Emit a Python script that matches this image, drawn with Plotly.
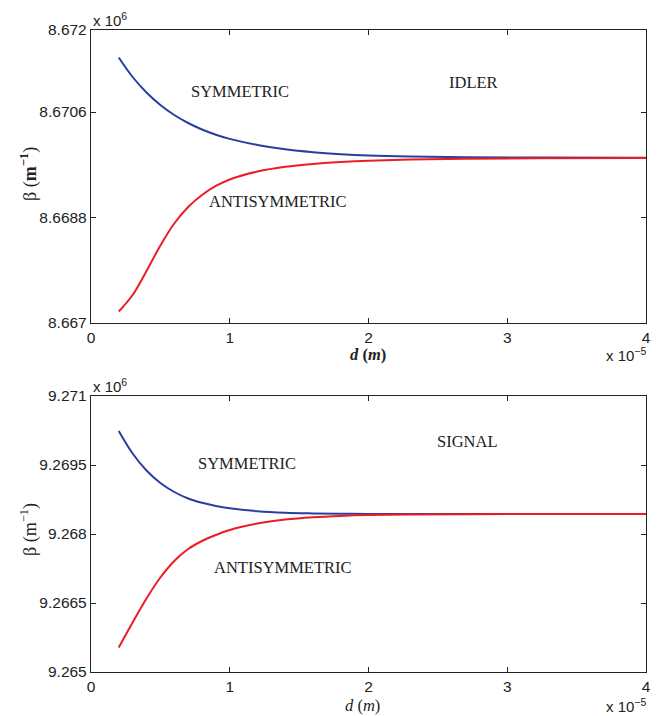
import plotly.graph_objects as go
from plotly.subplots import make_subplots

# d in units of 1e-5 m, beta in units of 1e6 m^-1
d = [0.2, 0.3, 0.4, 0.5, 0.6, 0.7, 0.8, 0.9, 1.0, 1.2, 1.4, 1.6, 1.8, 2.0, 2.3, 2.7, 3.2, 4.0]

idler_sym = [8.671531, 8.671198, 8.670933, 8.670720, 8.670549, 8.670413, 8.670302, 8.670213,
             8.670142, 8.670038, 8.669964, 8.669915, 8.669881, 8.669858, 8.669840, 8.669828,
             8.669823, 8.669819]
idler_anti = [8.667196, 8.667478, 8.667887, 8.668322, 8.668698, 8.668979, 8.669184, 8.669338,
              8.669449, 8.669585, 8.669666, 8.669715, 8.669747, 8.669770, 8.669790, 8.669804,
              8.669812, 8.669817]

signal_sym = [9.270239, 9.269750, 9.269380, 9.269109, 9.268913, 9.268772, 9.268678, 9.268609,
              9.268559, 9.268496, 9.268463, 9.268448, 9.268440, 9.268437, 9.268435, 9.268435,
              9.268435, 9.268435]
signal_anti = [9.265533, 9.266076, 9.266598, 9.267054, 9.267413, 9.267674, 9.267848, 9.267978,
               9.268087, 9.268228, 9.268313, 9.268363, 9.268393, 9.268411, 9.268424, 9.268430,
               9.268434, 9.268435]

x_ticks = [0, 1, 2, 3, 4]
top_yticks = [8.667, 8.6688, 8.6706, 8.672]
top_yticktext = ["8.667", "8.6688", "8.6706", "8.672"]
bot_yticks = [9.265, 9.2665, 9.268, 9.2695, 9.271]
bot_yticktext = ["9.265", "9.2665", "9.268", "9.2695", "9.271"]

BLUE = "rgb(42,62,160)"
RED = "rgb(236,28,36)"
SERIF = "Liberation Serif, Times New Roman, serif"
SANS = "Liberation Sans, Arial, sans-serif"

W, H = 668, 716
L, R, T, B = 91, 22, 30, 44
PW, PH = W - L - R, H - T - B

def py(pix):
    return (H - B - pix) / PH

def px(pix):
    return (pix - L) / PW

fig = make_subplots(rows=2, cols=1, vertical_spacing=0.05)
fig.update_layout(
    yaxis=dict(domain=[py(323), 1.0]),
    yaxis2=dict(domain=[0.0, py(396)]),
)

line_w = 2
spl = dict(shape="spline", smoothing=1.0)
fig.add_trace(go.Scatter(x=d, y=idler_sym, mode="lines", line=dict(color=BLUE, width=line_w, **spl)), row=1, col=1)
fig.add_trace(go.Scatter(x=d, y=idler_anti, mode="lines", line=dict(color=RED, width=line_w, **spl)), row=1, col=1)
fig.add_trace(go.Scatter(x=d, y=signal_sym, mode="lines", line=dict(color=BLUE, width=line_w, **spl)), row=2, col=1)
fig.add_trace(go.Scatter(x=d, y=signal_anti, mode="lines", line=dict(color=RED, width=line_w, **spl)), row=2, col=1)

axis_common = dict(showline=True, linecolor="#222", linewidth=1.3, mirror="ticks",
                   ticks="inside", ticklen=5, tickcolor="#222", showgrid=False, zeroline=False,
                   tickfont=dict(family=SANS, size=15.5, color="#222"))

for r in (1, 2):
    fig.update_xaxes(range=[0, 4], tickvals=x_ticks, ticktext=[str(v) for v in x_ticks],
                     row=r, col=1, **axis_common)
fig.update_yaxes(range=[8.667, 8.672], tickvals=top_yticks, ticktext=top_yticktext, row=1, col=1, **axis_common)
fig.update_yaxes(range=[9.265, 9.271], tickvals=bot_yticks, ticktext=bot_yticktext, row=2, col=1, **axis_common)

C = dict(xanchor="center", yanchor="middle", showarrow=False)
ann = []
lab_font = dict(family=SERIF, size=16.5, color="#222")
ann += [
    dict(x=1.074, y=8.670947, xref="x", yref="y", text="SYMMETRIC", font=lab_font, **C),
    dict(x=1.348, y=8.669070, xref="x", yref="y", text="ANTISYMMETRIC", font=lab_font, **C),
    dict(x=2.76, y=8.671101, xref="x", yref="y", text="IDLER", font=lab_font, **C),
    dict(x=1.124, y=9.269543, xref="x2", yref="y2", text="SYMMETRIC", font=lab_font, **C),
    dict(x=1.384, y=9.267261, xref="x2", yref="y2", text="ANTISYMMETRIC", font=lab_font, **C),
    dict(x=2.71, y=9.270007, xref="x2", yref="y2", text="SIGNAL", font=lab_font, **C),
]
mult_font = dict(family=SANS, size=15, color="#222")
ann += [
    dict(x=px(91), y=py(31), xref="paper", yref="paper", xanchor="left", yanchor="bottom",
         text="x 10<sup>6</sup>", showarrow=False, font=mult_font),
    dict(x=px(91), y=py(397), xref="paper", yref="paper", xanchor="left", yanchor="bottom",
         text="x 10<sup>6</sup>", showarrow=False, font=mult_font),
    dict(x=px(648), y=py(354), xref="paper", yref="paper", text="x 10<sup>−5</sup>",
         font=mult_font, xanchor="right", yanchor="middle", showarrow=False),
    dict(x=px(648), y=py(705), xref="paper", yref="paper", text="x 10<sup>−5</sup>",
         font=mult_font, xanchor="right", yanchor="middle", showarrow=False),
]
ann += [
    dict(x=px(368), y=py(354), xref="paper", yref="paper", text="<b><i>d</i> (<i>m</i>)</b>",
         font=dict(family=SERIF, size=16.5, color="#222"), **C),
    dict(x=px(362), y=py(705), xref="paper", yref="paper", text="<i>d</i> (<i>m</i>)",
         font=dict(family=SERIF, size=16.5, color="#222"), **C),
    dict(x=px(29), y=py(174), xref="paper", yref="paper", text="β (<b>m<sup>−1</sup></b>)",
         textangle=-90, font=dict(family=SERIF, size=18, color="#222"), **C),
    dict(x=px(29), y=py(530), xref="paper", yref="paper", text="β (m<sup>−1</sup>)",
         textangle=-90, font=dict(family=SERIF, size=18, color="#222"), **C),
]

fig.update_layout(
    width=W, height=H,
    margin=dict(l=L, r=R, t=T, b=B),
    paper_bgcolor="white", plot_bgcolor="white",
    showlegend=False,
    annotations=ann,
)

fig.write_html("out.html", config={"displayModeBar": False},
               post_script="document.body.style.margin='0px';document.body.style.overflow='hidden';")
